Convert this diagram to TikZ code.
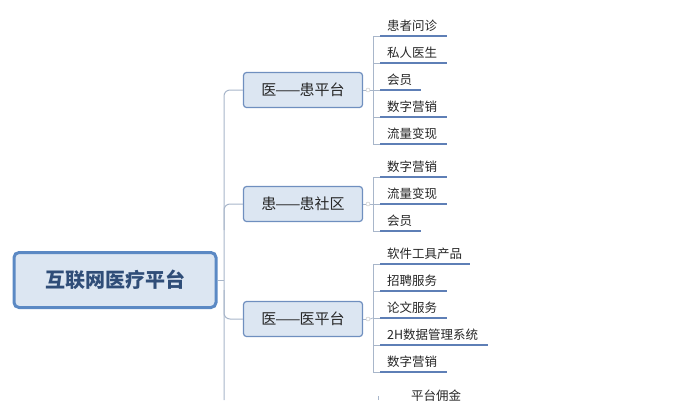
\documentclass[tikz,border=0pt]{standalone}
\usepackage{fontspec}
\setmainfont{Noto Sans CJK SC}
\definecolor{bfill}{HTML}{DCE6F2}
\definecolor{bmid}{HTML}{6F8FBF}
\definecolor{broot}{HTML}{5B89C4}
\definecolor{blink}{HTML}{A8B6CA}
\definecolor{bline}{HTML}{5E7FB6}
\definecolor{rtext}{HTML}{2F4D78}
\begin{document}
\begin{tikzpicture}[x=1pt,y=-1pt,
  link/.style={draw=blink, line width=1pt},
  mid/.style={draw=bmid, fill=bfill, line width=1.2pt, rounded corners=3pt, minimum width=119pt, minimum height=35pt, font=\fontsize{15}{17}\selectfont, text=black!85},
  leaf/.style={anchor=south west, inner sep=0pt, font=\fontsize{12.5}{14}\selectfont, text=black!85},
  uline/.style={draw=bline, line width=1.8pt},
  knob/.style={circle, draw=gray!50, inner sep=0pt, minimum size=4pt}]
\useasboundingbox (0,0) rectangle (680,400);
\node[draw=broot, fill=bfill, line width=3pt, rounded corners=5pt, minimum width=202pt, minimum height=55pt, font=\fontsize{20}{22}\selectfont\bfseries, text=rtext] (root) at (115,280) {互联网医疗平台};
\coordinate (tr) at (224,280);
\coordinate (tb) at (224,400);
\node[mid] (m1) at (303,90) {医\kern-1pt——\kern-1pt患平台};
\node[mid] (m2) at (303,204) {患\kern-1pt——\kern-1pt患社区};
\node[mid] (m3) at (303,319) {医\kern-1pt——\kern-1pt医平台};
\draw[link] (root.east) -- (tr);
\draw[link,rounded corners=6pt] (m1.west) -| (tb);
\draw[link,rounded corners=6pt] (m2.west) -| (224,230);
\draw[link,rounded corners=6pt] (m3.west) -| (224,290);
\foreach \g/\ys/\m in {1/{36/447/患者问诊,63/447/私人医生,90/421/会员,117/447/数字营销,144/447/流量变现}/m1,
                        2/{177/447/数字营销,204/447/流量变现,231/421/会员}/m2,
                        3/{264/470/软件工具产品,291/447/招聘服务,318/447/论文服务,345/488/2H数据管理系统,372/447/数字营销}/m3}{
  \foreach \y/\e/\t [count=\i] in \ys {
    \coordinate (s\g\i) at (373,\y);
    \coordinate (e\g\i) at (\e,\y);
    \draw[uline] (380,\y) -- (e\g\i);
    \draw[link,line width=0.7pt] (s\g\i) -- (380,\y);
    \node[leaf] (l\g\i) at (387,\y-4) {\t};
  }
}
\draw[link,line width=0.7pt] (s11) -- (s15);
\draw[link,line width=0.7pt] (s21) -- (s23);
\draw[link,line width=0.7pt] (s31) -- (s35);
\node[knob] (k1) at (368,90) {};
\node[knob] (k2) at (368,204) {};
\node[knob] (k3) at (368,319) {};
\draw[link,line width=0.7pt] (m1.east) -- (k1.west);
\draw[link,line width=0.7pt] (k1.east) -- (s13);
\draw[link,line width=0.7pt] (m2.east) -- (k2.west);
\draw[link,line width=0.7pt] (k2.east) -- (s22);
\draw[link,line width=0.7pt] (m3.east) -- (k3.west);
\draw[link,line width=0.7pt] (k3.east) -- (s33);
\node[leaf] (l41) at (411,402) {平台佣金};
\coordinate (s41) at (378,400);
\draw[link,line width=0.7pt] (s41) -- (378,396);
\end{tikzpicture}
\end{document}
